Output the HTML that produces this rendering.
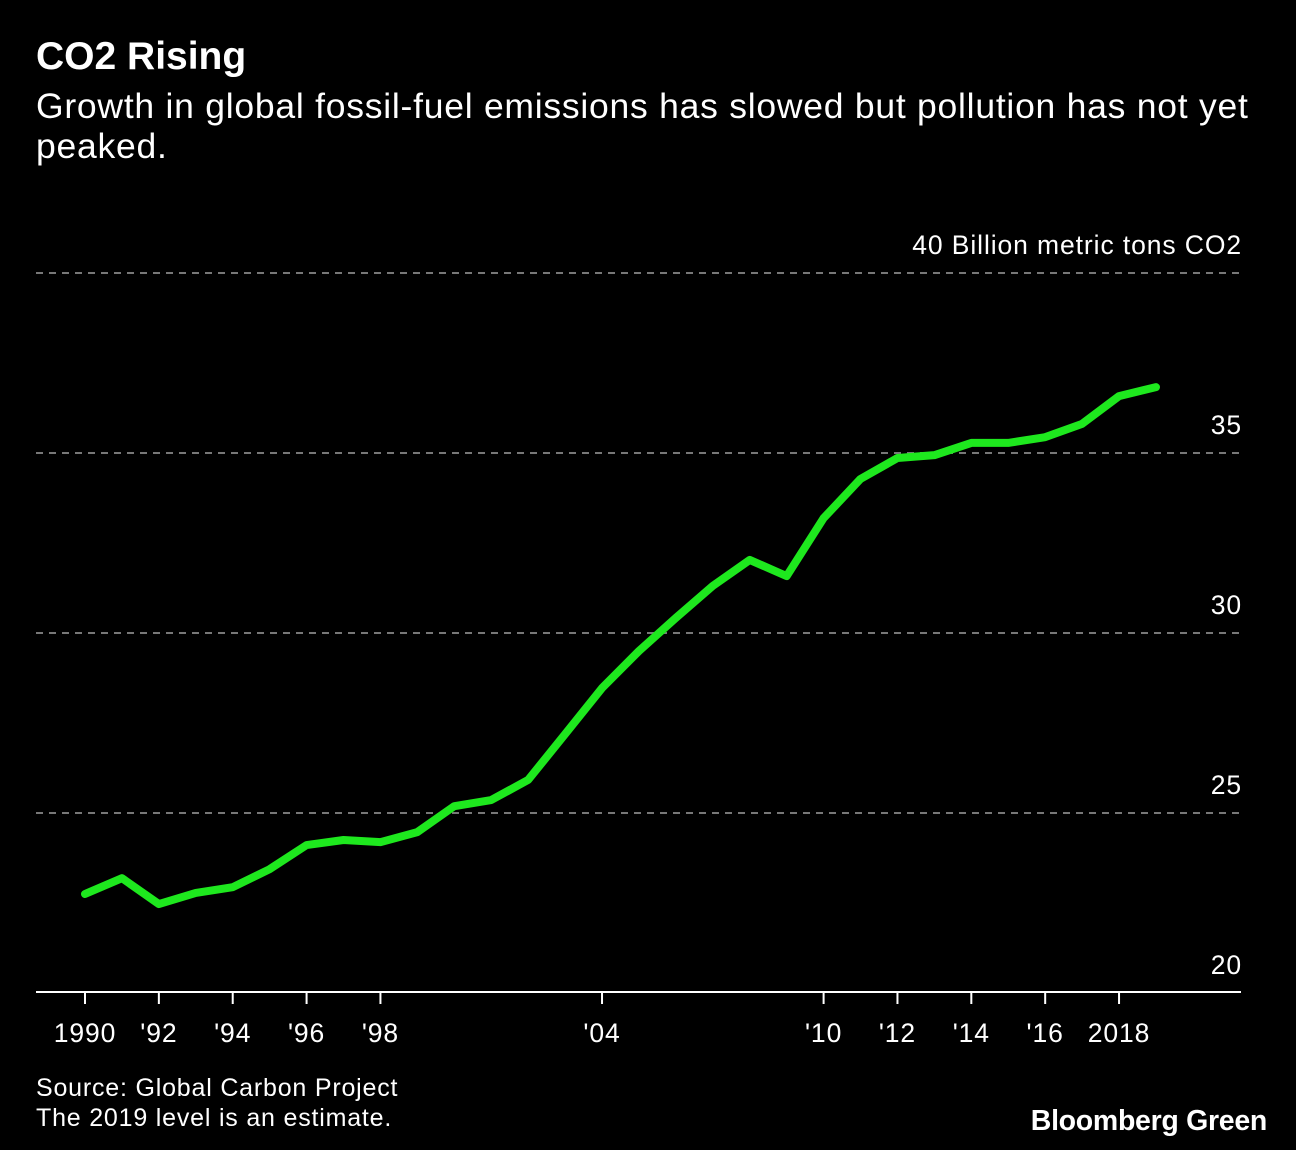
<!DOCTYPE html>
<html><head><meta charset="utf-8"><style>
body{margin:0;background:#000;width:1296px;height:1150px;overflow:hidden;font-family:"Liberation Sans",sans-serif;color:#fff}
.t{position:absolute;left:36px;top:35px;font-size:39px;font-weight:bold;letter-spacing:0px}
.s{position:absolute;left:36px;top:86px;font-size:35.5px;line-height:40px;width:1230px;letter-spacing:0.75px}
.src{position:absolute;left:36px;top:1073px;font-size:25px;line-height:30px;letter-spacing:0.8px}
.logo{position:absolute;right:29px;top:1105px;font-size:28.5px;font-weight:bold;letter-spacing:-0.3px}
svg{position:absolute;left:0;top:0}
</style></head><body>
<div class="t">CO2 Rising</div>
<div class="s">Growth in global fossil-fuel emissions has slowed but pollution has not yet peaked.</div>
<svg id="c" width="1296" height="1150"></svg>
<div class="src">Source: Global Carbon Project<br>The 2019 level is an estimate.</div>
<div class="logo">Bloomberg Green</div>
<script>
const years=[1990,1991,1992,1993,1994,1995,1996,1997,1998,1999,2000,2001,2002,2003,2004,2005,2006,2007,2008,2009,2010,2011,2012,2013,2014,2015,2016,2017,2018,2019];
const emissions=[22.75,23.19,22.47,22.78,22.94,23.44,24.11,24.25,24.19,24.47,25.19,25.36,25.92,27.19,28.47,29.5,30.42,31.31,32.03,31.58,33.19,34.28,34.86,34.94,35.28,35.28,35.44,35.81,36.58,36.83];
const yTicks=[20,25,30,35,40];
const yTickLabels=["20","25","30","35","40 Billion metric tons CO2"];
const xTicks=[1990,1992,1994,1996,1998,2004,2010,2012,2014,2016,2018];
const xTickLabels=["1990","'92","'94","'96","'98","'04","'10","'12","'14","'16","2018"];
const NS="http://www.w3.org/2000/svg",svg=document.getElementById('c');
const x=v=>85+(v-1990)*36.93;
const y=v=>993-(v-20)*36;
function mk(t,a){const e=document.createElementNS(NS,t);for(const k in a)e.setAttribute(k,a[k]);svg.appendChild(e);return e;}
yTicks.forEach((v,i)=>{
 if(v>20){const l=mk('line',{x1:36,x2:1241,y1:y(v),y2:y(v),stroke:'#777','stroke-width':2,'stroke-dasharray':'7,6'});
 }
 const t=mk('text',{x:1242,y:y(v)-19,'text-anchor':'end','font-size':26.5,fill:'#fff','font-family':'Liberation Sans','letter-spacing':'0.9'});
 t.textContent=yTickLabels[i];
 
});
const ax=mk('line',{x1:36,x2:1241,y1:992,y2:992,stroke:'#fff','stroke-width':2});

xTicks.forEach((v,i)=>{
 const k=mk('line',{x1:x(v),x2:x(v),y1:992,y2:1004,stroke:'#fff','stroke-width':2});
 
 const t=mk('text',{x:x(v),y:1042,'text-anchor':'middle','font-size':26.5,fill:'#fff','font-family':'Liberation Sans','letter-spacing':'0.9'});
 t.textContent=xTickLabels[i];
 
});
const p=mk('polyline',{points:years.map((yr,i)=>x(yr)+','+y(emissions[i])).join(' '),fill:'none',stroke:'#1ee81e','stroke-width':8,'stroke-linejoin':'round','stroke-linecap':'round'});

</script>
</body></html>
